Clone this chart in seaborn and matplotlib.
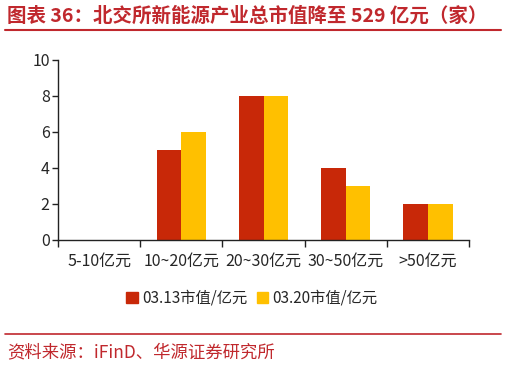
import matplotlib
matplotlib.use("Agg")
import matplotlib.pyplot as plt
import seaborn as sns
import pandas as pd
from matplotlib.lines import Line2D

categories = ["5-10亿元", "10~20亿元", "20~30亿元", "30~50亿元", ">50亿元"]
series_names = ["03.13市值/亿元", "03.20市值/亿元"]
values_0313 = [0, 5, 8, 4, 2]
values_0320 = [0, 6, 8, 3, 2]
yticks = [0, 2, 4, 6, 8, 10]
title = "图表 36：北交所新能源产业总市值降至 529 亿元（家）"
source = "资料来源：iFinD、华源证券研究所"

sns.set_style("white")
plt.rcParams['font.family'] = ['Noto Sans CJK SC', 'DejaVu Sans']

df = pd.DataFrame({
    "cat": categories * 2,
    "series": [series_names[0]] * len(categories) + [series_names[1]] * len(categories),
    "val": values_0313 + values_0320,
})

fig = plt.figure(figsize=(5.07, 3.66), dpi=100)
ax = fig.add_axes([58/507, 126/366, (469-58)/507, 180/366])
sns.barplot(data=df, x="cat", y="val", hue="series", order=categories,
            hue_order=series_names, palette=["#C82808", "#FFC000"],
            width=0.6, gap=0, saturation=1, ax=ax, legend=False, linewidth=0)
ax.set_ylim(0, 10)
ax.set_xlim(-0.5, len(categories) - 0.5)
ax.set_yticks(yticks)
ax.set_xlabel("")
ax.set_ylabel("")
for s in ["top", "right"]:
    ax.spines[s].set_visible(False)
for s in ["left", "bottom"]:
    ax.spines[s].set_color("#222222")
    ax.spines[s].set_linewidth(1.0)
ax.tick_params(axis="y", direction="out", length=4, width=1, color="#222222",
               labelsize=11.5, pad=2, left=True)
ax.tick_params(axis="x", which="major", length=0, labelsize=11.5, pad=9)
ax.set_xticks([i - 0.5 for i in range(len(categories) + 1)], minor=True)
ax.tick_params(axis="x", which="minor", direction="out", length=5, width=1,
               color="#222222", bottom=True)
ax.set_xticks(range(len(categories)))
ax.set_xticklabels(categories)

handles = [plt.Rectangle((0, 0), 1, 1, color=c) for c in ["#C82808", "#FFC000"]]
fig.legend(handles, series_names, loc="center", bbox_to_anchor=(252/507, 1 - 298/366),
           ncol=2, frameon=False, fontsize=11, handlelength=0.75, handleheight=0.75,
           handletextpad=0.3, columnspacing=0.6)

fig.text(7/507, 1 - 16/366, title, color="#C0282D", fontsize=14,
         fontweight="bold", va="center", ha="left")
fig.add_artist(Line2D([5/507, 501/507], [1 - 30/366, 1 - 30/366], color="#C0282D", lw=1.5))
fig.add_artist(Line2D([5/507, 501/507], [1 - 334/366, 1 - 334/366], color="#C0282D", lw=1.2))
fig.text(7/507, 1 - 352/366, source, color="#C0282D", fontsize=12.5,
         va="center", ha="left")

fig.savefig("out.png", dpi=100)
